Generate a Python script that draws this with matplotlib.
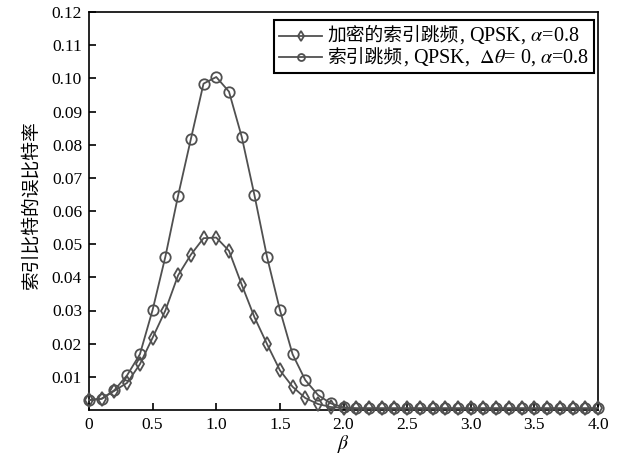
import numpy as np
import matplotlib.pyplot as plt
from matplotlib.ticker import FixedLocator, FixedFormatter
from matplotlib.offsetbox import AnchoredOffsetbox, HPacker, VPacker, TextArea, DrawingArea
from matplotlib.lines import Line2D

plt.rcParams['font.family'] = ['Liberation Serif', 'Noto Sans CJK SC']
plt.rcParams['mathtext.fontset'] = 'stix'

# beta sweep 0..4 in steps of 0.1
beta = np.round(np.arange(0, 4.01, 0.1), 1)

# encrypted index hopping BER
ber_enc = [0.0030, 0.0034, 0.0058, 0.0082, 0.0138, 0.0218, 0.0300, 0.0406, 0.0468, 0.0518,
           0.0520, 0.0480, 0.0378, 0.0280, 0.0198, 0.0120, 0.0070, 0.0036, 0.0018, 0.0009,
           0.0006, 0.0005, 0.0005, 0.0005, 0.0005, 0.0005, 0.0005, 0.0005, 0.0005, 0.0005,
           0.0005, 0.0005, 0.0005, 0.0005, 0.0005, 0.0005, 0.0005, 0.0005, 0.0005, 0.0005,
           0.0005]
# plain index hopping BER
ber_plain = [0.0030, 0.0034, 0.0060, 0.0105, 0.0168, 0.0302, 0.0462, 0.0646, 0.0816, 0.0984,
             0.1004, 0.0960, 0.0824, 0.0648, 0.0460, 0.0302, 0.0168, 0.0090, 0.0045, 0.0020,
             0.0008, 0.0005, 0.0005, 0.0005, 0.0005, 0.0005, 0.0005, 0.0005, 0.0005, 0.0005,
             0.0005, 0.0005, 0.0005, 0.0005, 0.0005, 0.0005, 0.0005, 0.0005, 0.0005, 0.0005,
             0.0005]

xticks = [0, 0.5, 1.0, 1.5, 2.0, 2.5, 3.0, 3.5, 4.0]
xticklabels = ['0', '0.5', '1.0', '1.5', '2.0', '2.5', '3.0', '3.5', '4.0']
yticks = [0.01, 0.02, 0.03, 0.04, 0.05, 0.06, 0.07, 0.08, 0.09, 0.10, 0.11, 0.12]
yticklabels = ['%.2f' % v for v in yticks]

# legend text: Chinese part and the latin/math part are set in different fonts
legend_cn = ['加密的索引跳频', '索引跳频']
legend_rest = [', QPSK, $\\alpha$=0.8', ', QPSK,  $\\Delta\\theta$= 0, $\\alpha$=0.8']
markers = ['d', 'o']

fig = plt.figure(figsize=(6.24, 4.54), dpi=100)
ax = fig.add_axes([89 / 624, 1 - 410 / 454, (598 - 89) / 624, (410 - 12) / 454])

col = '#505050'
for ys, mk in zip([ber_enc, ber_plain], markers):
    ax.plot(beta, ys, color=col, lw=1.3, marker=mk, ms=7.5, mfc='none',
            mec=col, mew=1.3, clip_on=False, zorder=3)

ax.set_xlim(0, 4.0)
ax.set_ylim(0, 0.12)
ax.xaxis.set_major_locator(FixedLocator(xticks))
ax.xaxis.set_major_formatter(FixedFormatter(xticklabels))
ax.yaxis.set_major_locator(FixedLocator(yticks))
ax.yaxis.set_major_formatter(FixedFormatter(yticklabels))
ax.tick_params(direction='in', length=5, width=1.2, labelsize=12.5, pad=5)
for s in ax.spines.values():
    s.set_linewidth(1.2)

ax.set_xlabel('$\\beta$', fontsize=14, labelpad=0)
ax.set_ylabel('索引比特的误比特率', fontsize=13.5)
ax.yaxis.set_label_coords(-0.095, 0.515)


def legend_row(marker, cn, rest):
    da = DrawingArea(31, 10, 0, 0)
    da.add_artist(Line2D([0, 31], [5, 5], color=col, lw=1.3))
    da.add_artist(Line2D([15.5], [5], marker=marker, ms=5, mfc='none',
                         mec=col, mew=1.3, color=col))
    t1 = TextArea(cn, textprops=dict(family='Noto Sans CJK SC', size=13.5))
    t2 = TextArea(rest, textprops=dict(family='Liberation Serif', size=14.5))
    words = HPacker(children=[t1, t2], pad=0, sep=0, align='baseline')
    return HPacker(children=[da, words], pad=0, sep=4, align='center')


rows = [legend_row(m, c, r) for m, c, r in zip(markers, legend_cn, legend_rest)]
box = VPacker(children=rows, pad=0, sep=0, align='left')
leg = AnchoredOffsetbox(loc='upper right', child=box, pad=0.35, borderpad=0,
                        frameon=True, bbox_to_anchor=(0.992, 0.980),
                        bbox_transform=ax.transAxes)
leg.patch.set_edgecolor('black')
leg.patch.set_linewidth(1.5)
leg.patch.set_boxstyle('square', pad=0)
ax.add_artist(leg)

fig.savefig('out.png', dpi=100)
